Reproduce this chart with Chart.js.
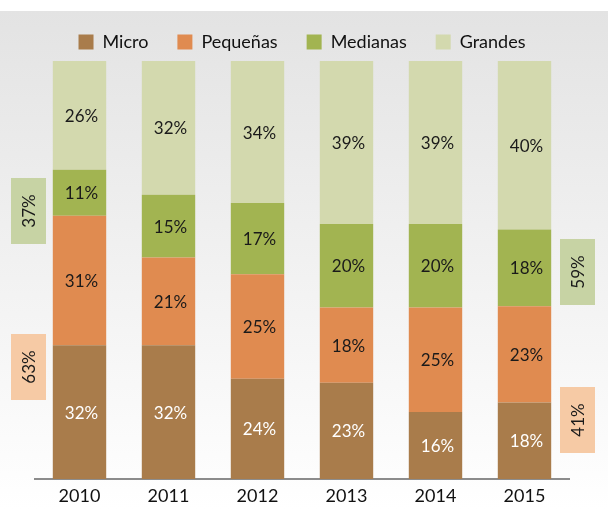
<!DOCTYPE html>
<html>
<head>
<meta charset="utf-8">
<script src="https://cdn.jsdelivr.net/npm/chart.js@4/dist/chart.umd.min.js"></script>
<style>
html,body{margin:0;padding:0;background:#fff;}
#wrap{width:608px;height:509px;position:relative;}
</style>
</head>
<body>
<div id="wrap"><canvas id="c" width="608" height="509"></canvas></div>
<script>
const years = ['2010','2011','2012','2013','2014','2015'];
const micro    = [32, 32, 24, 23, 16, 18.3];
const pequenas = [31, 21, 25, 18, 25, 23.0];
const medianas = [11, 15, 17, 20, 20, 18.4];
const grandes  = [26, 32, 34, 39, 39, 40.3];
const leftShares  = [63, 37];   // 2010: Micro+Pequeñas, Medianas+Grandes
const rightShares = [41, 59];   // 2015: Micro+Pequeñas, Medianas+Grandes

const FONT = 'Lato, "Liberation Sans", sans-serif';
Chart.defaults.font.family = FONT;

const bgPlugin = {
  id: 'bg',
  beforeDraw(chart) {
    const ctx = chart.ctx;
    ctx.save();
    ctx.fillStyle = '#ffffff';
    ctx.fillRect(0, 0, chart.width, chart.height);
    const g = ctx.createLinearGradient(0, 11, 0, chart.height);
    g.addColorStop(0, '#e3e3e3');
    g.addColorStop(1, '#ffffff');
    ctx.fillStyle = g;
    ctx.fillRect(0, 11, chart.width, chart.height - 11);
    ctx.restore();
  }
};

const labelPlugin = {
  id: 'segLabels',
  afterDatasetsDraw(chart) {
    const ctx = chart.ctx;
    ctx.save();
    ctx.font = '17px ' + FONT;
    ctx.textAlign = 'center';
    ctx.textBaseline = 'middle';
    chart.data.datasets.forEach((ds, i) => {
      const meta = chart.getDatasetMeta(i);
      meta.data.forEach((bar, j) => {
        const v = ds.data[j];
        const yMid = (bar.y + bar.base) / 2;
        ctx.fillStyle = i === 0 ? '#ffffff' : '#1a1a1a';
        ctx.fillText(Math.round(v) + '%', bar.x + 2, yMid + 1);
      });
    });
    ctx.restore();
  }
};

const sidePlugin = {
  id: 'sideBoxes',
  afterDraw(chart) {
    const ctx = chart.ctx;
    const boxes = [
      {x: 11, y: 178, text: leftShares[1] + '%', color: '#c7d3a4'},
      {x: 11, y: 334, text: leftShares[0] + '%', color: '#f6caa5'},
      {x: 560, y: 239, text: rightShares[1] + '%', color: '#c7d3a4'},
      {x: 560, y: 387, text: rightShares[0] + '%', color: '#f6caa5'}
    ];
    ctx.save();
    boxes.forEach(b => {
      const w = 35, h = 66;
      ctx.fillStyle = b.color;
      ctx.fillRect(b.x, b.y, w, h);
      ctx.save();
      ctx.translate(b.x + w / 2 + 1, b.y + h / 2);
      ctx.rotate(-Math.PI / 2);
      ctx.font = '17px ' + FONT;
      ctx.fillStyle = '#1a1a1a';
      ctx.textAlign = 'center';
      ctx.textBaseline = 'middle';
      ctx.fillText(b.text, 0, 0);
      ctx.restore();
    });
    ctx.restore();
  }
};

new Chart(document.getElementById('c'), {
  type: 'bar',
  data: {
    labels: years,
    datasets: [
      {label: 'Micro', data: micro, backgroundColor: '#a97c4b'},
      {label: 'Pequeñas', data: pequenas, backgroundColor: '#e08b50'},
      {label: 'Medianas', data: medianas, backgroundColor: '#a2b451'},
      {label: 'Grandes', data: grandes, backgroundColor: '#d3d9ae'}
    ]
  },
  options: {
    responsive: false,
    animation: false,
    layout: {padding: {left: 35, right: 39, top: 4, bottom: 0}},
    datasets: {bar: {barPercentage: 0.6, categoryPercentage: 1.0, borderWidth: 0}},
    plugins: {
      legend: {
        position: 'top',
        labels: {
          boxWidth: 15, boxHeight: 15, padding: 29,
          color: '#111111',
          font: {size: 18, family: FONT}
        }
      },
      tooltip: {enabled: false}
    },
    scales: {
      x: {
        stacked: true,
        grid: {display: false, drawTicks: false},
        border: {display: true, color: '#8c8c8c', width: 2},
        ticks: {color: '#111111', font: {size: 18, family: FONT, lineHeight: 1.0}, padding: 8},
        afterFit(scale) { scale.height = 30; }
      },
      y: {
        stacked: true,
        display: false,
        min: 0, max: 100
      }
    }
  },
  plugins: [bgPlugin, labelPlugin, sidePlugin]
});
</script>
</body>
</html>
